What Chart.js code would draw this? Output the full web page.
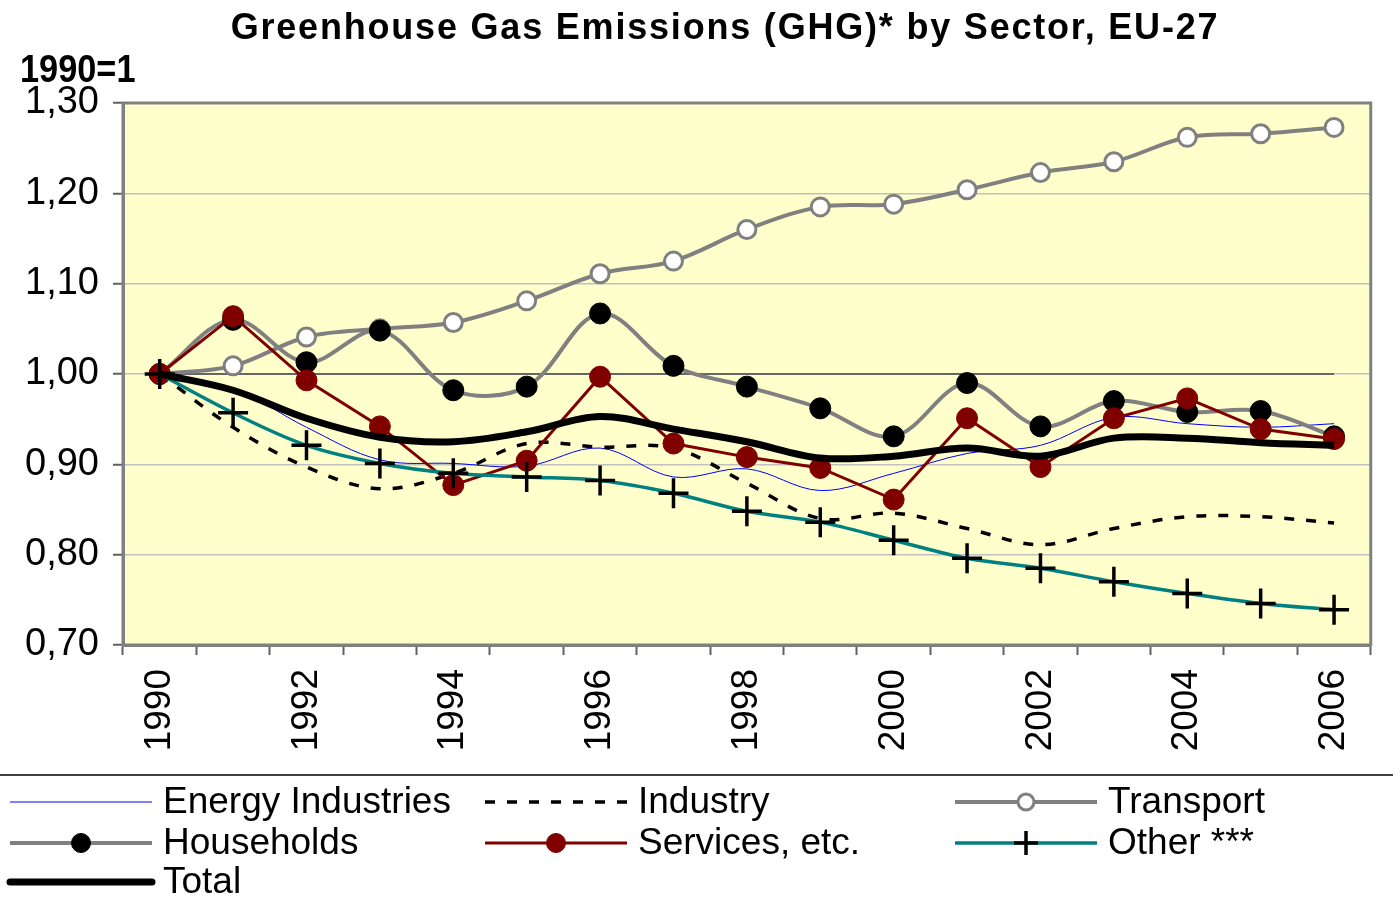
<!DOCTYPE html>
<html><head><meta charset="utf-8">
<script src="https://cdn.jsdelivr.net/npm/chart.js@4/dist/chart.umd.min.js"></script>
<style>html,body{margin:0;padding:0;background:#fff;}#wrap{width:1393px;height:915px;}</style>
</head><body><div id="wrap"><canvas id="c" width="1393" height="915"></canvas></div>
<script>
const years = ['1990','1991','1992','1993','1994','1995','1996','1997','1998','1999','2000','2001','2002','2003','2004','2005','2006'];
const energyIndustries = [1.000,0.984,0.941,0.905,0.901,0.898,0.918,0.886,0.895,0.871,0.890,0.912,0.921,0.952,0.945,0.941,0.945];
const industry        = [1.000,0.941,0.897,0.873,0.890,0.923,0.919,0.918,0.879,0.840,0.846,0.829,0.811,0.829,0.842,0.842,0.835];
const transport       = [1.000,1.009,1.041,1.050,1.057,1.081,1.111,1.125,1.160,1.185,1.188,1.204,1.223,1.235,1.262,1.266,1.273];
const households      = [1.000,1.060,1.013,1.048,0.982,0.986,1.067,1.009,0.986,0.962,0.931,0.990,0.942,0.970,0.958,0.959,0.931];
const services        = [1.000,1.064,0.993,0.942,0.877,0.904,0.997,0.923,0.908,0.896,0.861,0.951,0.897,0.951,0.973,0.939,0.928];
const other           = [1.000,0.957,0.921,0.901,0.890,0.886,0.882,0.868,0.848,0.836,0.816,0.796,0.785,0.770,0.757,0.746,0.739];
const total           = [1.000,0.982,0.951,0.930,0.925,0.936,0.953,0.939,0.925,0.907,0.909,0.918,0.909,0.929,0.929,0.924,0.921];
const baseline        = [1,1,1,1,1,1,1,1,1,1,1,1,1,1,1,1,1];
const yMin = 0.70, yMax = 1.30, yStep = 0.10;
const titleText = 'Greenhouse Gas Emissions (GHG)* by Sector, EU-27';
const unitText = '1990=1';

const FONT = '"Liberation Sans", Arial, sans-serif';
const GREY = '#808080';

const datasets = [
  {label:'Energy Industries', data:energyIndustries, borderColor:'#0000FF', borderWidth:1, pointRadius:0, tension:0.35, order:7},
  {label:'Industry', data:industry, borderColor:'#000', borderWidth:3.5, borderDash:[10,12], pointRadius:0, tension:0.35, order:6},
  {label:'Transport', data:transport, borderColor:GREY, borderWidth:4, pointRadius:9, pointBackgroundColor:'#fff', pointBorderColor:GREY, pointBorderWidth:3, tension:0.35, order:5},
  {label:'Households', data:households, borderColor:GREY, borderWidth:4, pointRadius:10.5, pointBackgroundColor:'#000', pointBorderColor:'#000', pointBorderWidth:1, tension:0.35, order:4},
  {label:'Services, etc.', data:services, borderColor:'#800000', borderWidth:3, pointRadius:10.5, pointBackgroundColor:'#800000', pointBorderColor:'#800000', pointBorderWidth:1, tension:0, order:3},
  {label:'Other ***', data:other, borderColor:'#008080', borderWidth:3.5, pointStyle:'cross', pointRadius:15, pointBorderColor:'#000', pointBorderWidth:3.5, tension:0.35, order:2},
  {label:'Total', data:total, borderColor:'#000', borderWidth:7, pointRadius:0, tension:0.35, order:1},
  {label:'base', data:baseline, borderColor:'#666', borderWidth:2, pointRadius:0, tension:0, order:9}
];

const legendLayout = [
  {i:0, x:10, y:802, tx:163}, {i:1, x:485, y:802, tx:638}, {i:2, x:955, y:802, tx:1108},
  {i:3, x:10, y:843, tx:163}, {i:4, x:485, y:843, tx:638}, {i:5, x:955, y:843, tx:1108},
  {i:6, x:10, y:882, tx:163}
];

const deco = {
  id:'deco',
  beforeDraw(chart){
    const {ctx, chartArea:a} = chart;
    ctx.save();
    ctx.fillStyle = '#FFFFCC';
    ctx.fillRect(a.left, a.top, a.right-a.left, a.bottom-a.top);
    ctx.restore();
  },
  afterDraw(chart){
    const {ctx, chartArea:a} = chart;
    ctx.save();
    ctx.strokeStyle = GREY; ctx.lineWidth = 3;
    ctx.strokeRect(a.left, a.top, a.right-a.left, a.bottom-a.top);
    // title
    ctx.fillStyle = '#000';
    ctx.font = 'bold 36px ' + FONT;
    ctx.letterSpacing = '1.8px';
    ctx.textAlign = 'center'; ctx.textBaseline = 'alphabetic';
    ctx.fillText(titleText, 725, 39);
    ctx.letterSpacing = '0px';
    ctx.textAlign = 'left';
    ctx.save();
    ctx.translate(20, 82);
    ctx.scale(0.88, 1);
    ctx.font = 'bold 39px ' + FONT;
    ctx.fillText(unitText, 0, 0);
    ctx.restore();
    // legend separator
    ctx.strokeStyle = '#000'; ctx.lineWidth = 1.5;
    ctx.beginPath(); ctx.moveTo(0, 775); ctx.lineTo(1393, 775); ctx.stroke();
    // legend items
    ctx.font = '37px ' + FONT;
    ctx.textBaseline = 'middle';
    legendLayout.forEach(L => {
      const d = chart.data.datasets[L.i];
      const x0 = L.x, x1 = L.x + 142, y = L.y;
      ctx.save();
      ctx.strokeStyle = d.borderColor; ctx.lineWidth = d.borderWidth;
      ctx.setLineDash(d.borderDash || []);
      ctx.lineCap = d.borderWidth >= 6 ? 'round' : 'butt';
      ctx.beginPath(); ctx.moveTo(x0, y); ctx.lineTo(x1, y); ctx.stroke();
      ctx.setLineDash([]);
      const xm = (x0 + x1) / 2;
      if (d.pointRadius > 0) {
        ctx.lineWidth = d.pointBorderWidth;
        ctx.strokeStyle = d.pointBorderColor;
        if (d.pointStyle === 'cross') {
          const r = 12;
          ctx.beginPath(); ctx.moveTo(xm - r, y); ctx.lineTo(xm + r, y);
          ctx.moveTo(xm, y - r); ctx.lineTo(xm, y + r); ctx.stroke();
        } else {
          ctx.fillStyle = d.pointBackgroundColor;
          ctx.beginPath(); ctx.arc(xm, y, d.pointRadius - 1, 0, Math.PI*2); ctx.fill(); ctx.stroke();
        }
      }
      ctx.restore();
      ctx.fillStyle = '#000';
      ctx.fillText(d.label, L.tx, y + 1);
    });
    ctx.restore();
  }
};

new Chart(document.getElementById('c'), {
  type:'line',
  data:{labels:years, datasets},
  options:{
    responsive:false, animation:false, devicePixelRatio:1,
    layout:{padding:{left:0, right:15, top:103, bottom:140}},
    plugins:{legend:{display:false}, title:{display:false}, tooltip:{enabled:false}},
    elements:{line:{fill:false}},
    scales:{
      x:{
        type:'category', offset:true,
        grid:{offset:true, drawOnChartArea:false, drawTicks:true, tickLength:10, tickColor:'#606060', tickWidth:2},
        border:{display:true, color:GREY, width:3},
        ticks:{autoSkip:false, maxRotation:90, minRotation:90, padding:14, color:'#000',
          font:{size:37, family:FONT},
          callback:(v,i)=> i%2===0 ? years[i] : ''},
        afterFit:s=>{s.height=130;}
      },
      y:{
        min:yMin, max:yMax,
        grid:{color:'#c0c0c0', lineWidth:1.5, drawTicks:true, tickLength:10, tickColor:'#606060', tickWidth:2},
        border:{display:true, color:GREY, width:3},
        ticks:{stepSize:yStep, padding:14, color:'#000', font:{size:38, family:FONT},
          callback:v=> v.toFixed(2).replace('.', ',')},
        afterFit:s=>{s.width=123;}
      }
    }
  },
  plugins:[deco]
});
</script></body></html>
